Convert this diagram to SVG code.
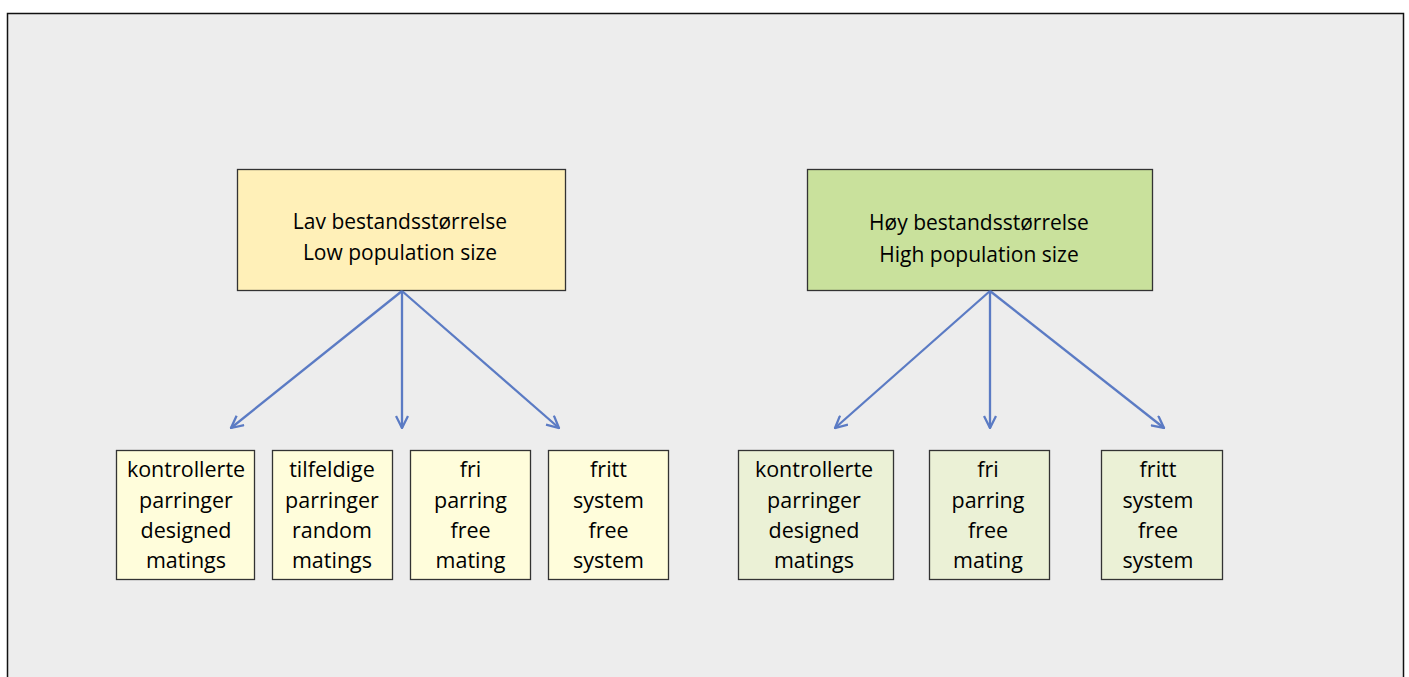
<svg xmlns="http://www.w3.org/2000/svg" width="1409" height="677" viewBox="0 0 1409 677">
<defs>
<style>
.bg{fill:#ededed;stroke:#111;stroke-width:1.5}
.box{stroke:#333;stroke-width:1.3}
.yt{fill:#fff0b8}
.gt{fill:#c9e19c}
.yb{fill:#fffddb}
.gb{fill:#ebf1d6}
text{font-family:"Open Sans","Liberation Sans",sans-serif;font-size:21.5px;fill:#000;text-anchor:middle}
.t{font-size:21px}
.conn line{stroke:#5b7bc4;stroke-width:2.3;fill:none}
</style>
<marker id="arr" viewBox="0 0 14 14" refX="13" refY="7" markerWidth="14" markerHeight="14" markerUnits="userSpaceOnUse" orient="auto">
<path d="M1,1 L13,7 L1,13" fill="none" stroke="#5b7bc4" stroke-width="2.3"/>
</marker>
</defs>
<rect class="bg" x="7.5" y="13.5" width="1396" height="680"/>
<g id="top-low">
<rect class="box yt" x="237.5" y="169.5" width="328" height="121"/>
<text class="t" x="400" y="229">Lav bestandsstørrelse</text>
<text class="t" x="400" y="260">Low population size</text>
</g>
<g id="top-high">
<rect class="box gt" x="807.5" y="169.5" width="345" height="121"/>
<text class="t" x="979" y="230">Høy bestandsstørrelse</text>
<text class="t" x="979" y="262">High population size</text>
</g>
<g id="low-1">
<rect class="box yb" x="116.5" y="450.5" width="138" height="129"/>
<text x="186" y="477">kontrollerte</text><text x="186" y="507.5">parringer</text><text x="186" y="538">designed</text><text x="186" y="568">matings</text>
</g>
<g id="low-2">
<rect class="box yb" x="272.5" y="450.5" width="120" height="129"/>
<text x="332" y="477">tilfeldige</text><text x="332" y="507.5">parringer</text><text x="332" y="538">random</text><text x="332" y="568">matings</text>
</g>
<g id="low-3">
<rect class="box yb" x="410.5" y="450.5" width="120" height="129"/>
<text x="470.5" y="477">fri</text><text x="470.5" y="507.5">parring</text><text x="470.5" y="538">free</text><text x="470.5" y="568">mating</text>
</g>
<g id="low-4">
<rect class="box yb" x="548.5" y="450.5" width="120" height="129"/>
<text x="608.5" y="477">fritt</text><text x="608.5" y="507.5">system</text><text x="608.5" y="538">free</text><text x="608.5" y="568">system</text>
</g>
<g id="high-1">
<rect class="box gb" x="738.5" y="450.5" width="155" height="129"/>
<text x="814" y="477">kontrollerte</text><text x="814" y="507.5">parringer</text><text x="814" y="538">designed</text><text x="814" y="568">matings</text>
</g>
<g id="high-2">
<rect class="box gb" x="929.5" y="450.5" width="120" height="129"/>
<text x="988" y="477">fri</text><text x="988" y="507.5">parring</text><text x="988" y="538">free</text><text x="988" y="568">mating</text>
</g>
<g id="high-3">
<rect class="box gb" x="1101.5" y="450.5" width="121" height="129"/>
<text x="1158" y="477">fritt</text><text x="1158" y="507.5">system</text><text x="1158" y="538">free</text><text x="1158" y="568">system</text>
</g>
<g class="conn" id="connectors">
<line x1="402" y1="291" x2="231" y2="428" marker-end="url(#arr)"/>
<line x1="402" y1="291" x2="402" y2="428" marker-end="url(#arr)"/>
<line x1="402" y1="291" x2="559" y2="428" marker-end="url(#arr)"/>
<line x1="990" y1="291" x2="835" y2="428" marker-end="url(#arr)"/>
<line x1="990" y1="291" x2="990" y2="428" marker-end="url(#arr)"/>
<line x1="990" y1="291" x2="1164" y2="428" marker-end="url(#arr)"/>
</g>
</svg>
